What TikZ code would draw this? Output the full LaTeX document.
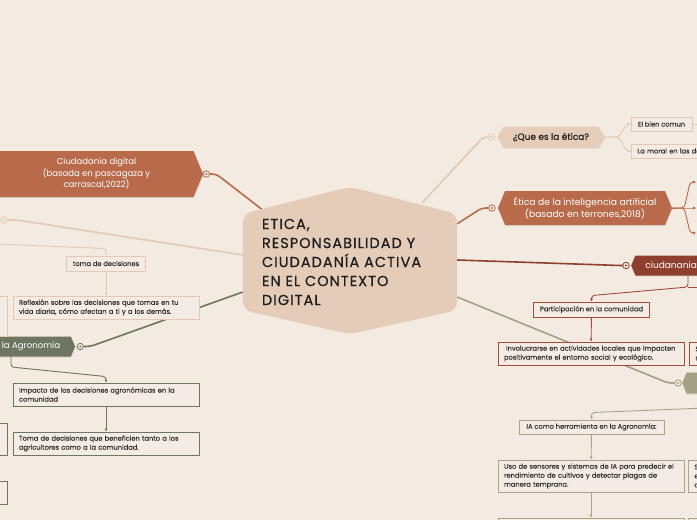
\documentclass[tikz,border=0pt]{standalone}
\usepackage{fontspec}
\setmainfont{Poppins}
\newfontfamily\heavyfont[FakeBold=0.6]{Poppins}
\newfontfamily\widefont[FakeBold=0.6,LetterSpace=7]{Poppins}
\newfontfamily\leaffont[FakeBold=0.2]{Poppins}
\usetikzlibrary{positioning,arrows.meta,shapes.symbols,shadows,calc,backgrounds}
\definecolor{paper}{HTML}{F3EBE2}
\definecolor{leaffill}{HTML}{F4ECE4}
\definecolor{ink}{HTML}{1E1E1E}
\definecolor{txt}{HTML}{34322F}
\definecolor{cfill}{HTML}{E4CCB8}
\definecolor{sand}{HTML}{E6CDB9}
\definecolor{sandline}{HTML}{E3C9B4}
\definecolor{rust}{HTML}{B86A4B}
\definecolor{drust}{HTML}{8F3F2D}
\definecolor{dline}{HTML}{A24C3B}
\definecolor{olive}{HTML}{6E7560}
\definecolor{khaki}{HTML}{A3A184}
\definecolor{khline}{HTML}{A9A688}
\pgfdeclarelayer{bglayer}
\pgfdeclarelayer{edges}
\pgfsetlayers{bglayer,edges,background,main}
\tikzset{
  title/.style={font=\widefont\fontsize{14.5}{19}\selectfont, text=ink, align=left,
                text width=176pt, inner xsep=19pt, inner ysep=0pt,
                minimum width=214pt, minimum height=96pt},
  topic/.style={signal, signal to=east and west, signal pointer angle=135, fill=#1,
                text=white, align=center, font=\fontsize{8.5}{11.5}\selectfont, inner sep=3pt,
                drop shadow={opacity=0.18, shadow xshift=0.6pt, shadow yshift=-1.2pt}},
  knob/.style={circle, draw=#1, fill=paper, line width=0.8pt, minimum size=6.5pt, inner sep=0pt,
               path picture={\fill[#1] (path picture bounding box.center) circle (1.2pt);}},
  leaf/.style={draw=#1, line width=0.9pt, fill=leaffill, text=txt,
               font=\leaffont\fontsize{6.7}{9}\selectfont, align=left, inner xsep=6pt, inner ysep=2pt},
  link/.style={line width=1.6pt, draw=#1, rounded corners=4pt},
  sublink/.style={-{Latex[length=3pt,width=3pt]}, line width=0.9pt, draw=#1, rounded corners=3pt},
}

\begin{document}
\begin{tikzpicture}[x=1pt, y=-1pt]
\useasboundingbox (0,0) rectangle (697,520);
\begin{pgfonlayer}{bglayer}
  \fill[paper] (0,0) rectangle (697,520);
\end{pgfonlayer}

% central topic
\node[title] (central) at (350,262) {ETICA,\\RESPONSABILIDAD Y\\CIUDADANÍA ACTIVA\\EN EL CONTEXTO\\DIGITAL};
\begin{scope}[on background layer]
  \fill[cfill, rounded corners=9pt] (central.west) -- (central.north west) -- ([yshift=27pt]central.north)
     -- (central.north east) -- (central.south east) -- ([yshift=-24pt]central.south)
     -- (central.south west) -- cycle;
\end{scope}

% main topics
\node[topic=rust, minimum width=213pt, minimum height=46pt] (cdig) at (96.5,174)
   {Ciudadania digital\\(basada en pascagaza y\\carrascal,2022)};
\node[topic=sand, text=ink, signal pointer angle=120, font=\heavyfont\fontsize{9}{10}\selectfont,
      minimum width=107pt, minimum height=21pt] (que) at (551,137) {¿Que es la ética?};
\node[topic=rust, minimum width=174pt, minimum height=34pt, font=\fontsize{9.2}{12}\selectfont] (eia) at (585,208)
   {Ética de la inteligencia artificial\\(basado en terrones,2018)};
\node[topic=drust, signal to=west, anchor=west, text width=90pt, align=left, inner xsep=10pt,
      minimum height=20pt, font=\fontsize{9}{11}\selectfont] (ciud) at (631,265.5) {ciudanania};
\node[topic=olive, minimum width=88pt, minimum height=20pt, font=\fontsize{8.6}{11}\selectfont] (agro) at (31,346.5) {la Agronomía};
\node[topic=khaki, signal to=west, anchor=west, minimum width=60pt, minimum height=21pt] (kh) at (682,383) {};

% knobs
\node[knob=rust] (cdigk) at ([xshift=3pt]cdig.east) {};
\node[knob=sandline] (lk) at (4,220) {};
\node[knob=olive] (agrok) at ([xshift=5pt]agro.east) {};
\node[knob=sandline] (quek) at ([xshift=-6pt]que.west) {};
\node[knob=rust] (eiak) at ([xshift=-6pt]eia.west) {};
\node[knob=drust] (ciudk) at ([xshift=-5pt]ciud.west) {};
\node[knob=khaki] (khk) at ([xshift=-4pt]kh.west) {};

% left leaves
\node[leaf=sandline, minimum width=79pt, minimum height=15pt, align=center] (toma) at (106,263.5) {toma de decisiones};
\node[leaf=sandline, text width=174pt, minimum height=23pt] (refl) at (106,307.5)
   {Reflexión sobre las decisiones que tomas en tu\\vida diaria, cómo afectan a ti y a los demás.};
\node[leaf=sandline, anchor=east, minimum width=60pt, minimum height=40pt] (lbox) at (8,316) {};
\node[leaf=olive, text width=174pt, minimum height=23pt] (impact) at (106,394.5)
   {Impacto de las decisiones agronómicas en la\\comunidad};
\node[leaf=olive, text width=174pt, minimum height=23pt] (benef) at (106,443.5)
   {Toma de decisiones que beneficien tanto a los\\agricultores como a la comunidad.};
\node[leaf=olive, anchor=east, minimum width=60pt, minimum height=32pt] (lbox2) at (8,439) {};
\node[leaf=olive, anchor=east, minimum width=60pt, minimum height=23pt] (lbox3) at (8,492.5) {};

% right leaves
\node[leaf=sandline, minimum width=61pt, minimum height=14pt, align=center] (bien) at (661.5,124) {El bien comun};
\node[leaf=sandline, anchor=west, text width=80pt, minimum height=14pt] (moral) at (631,151) {La moral en las de};
\node[leaf=dline, minimum width=115pt, minimum height=15pt, align=center] (part) at (591.5,309.5) {Participación en la comunidad};
\node[leaf=dline, text width=174pt, minimum height=23pt] (invol) at (591,353.5)
   {\hspace{2pt}Involucrarse en actividades locales que impacten\\positivamente el entorno social y ecológico.};
\node[leaf=dline, anchor=west, text width=60pt, minimum height=23pt] (involr) at (689,353.5) {S\\s};
\node[leaf=khline, minimum width=145pt, minimum height=14pt, align=center] (ia) at (591.5,427) {IA como herramienta en la Agronomía:};
\node[leaf=khline, text width=174pt, minimum height=32pt] (uso) at (591,476)
   {Uso de sensores y sistemas de IA para predecir el\\rendimiento de cultivos y detectar plagas de\\manera temprana.};
\node[leaf=khline, anchor=west, text width=60pt, minimum height=32pt] (usor) at (688,476) {S\\e\\c};
\node[leaf=khline, minimum width=186pt, minimum height=24pt] (next) at (591,530) {};
\node[leaf=khline, anchor=west, minimum width=60pt, minimum height=24pt] (nextr) at (688,530) {};

\begin{pgfonlayer}{edges}
  % main branches
  \draw[link=rust] (cdigk) -- ++(10,0) -- ([xshift=30pt,yshift=-4pt]central.north west);
  \draw[link=sandline] (lk) -- ++(13,0) -- ([yshift=7pt]central.west);
  \draw[link=olive] (agrok) -- ++(10,0) -- ([yshift=-30pt]central.west);
  \draw[link=sandline] (quek) -- ++(-8,0) -- ([xshift=-35pt,yshift=11pt]central.north east);
  \draw[link=rust] (eiak) -- ++(-10,0) -- ([yshift=-10pt]central.north east);
  \draw[link=drust] (ciudk) -- ++(-6,0) -- ([yshift=2pt]central.east);
  \draw[link=khaki] (khk) -- ++(-10,0) -- ([yshift=-35pt]central.east);
  % sub branches
  \coordinate (tomain) at (-5,244);
  \draw[sublink=sandline] (tomain) -- ([yshift=7pt]toma.north) -- (toma.north);
  \draw[sublink=sandline] (toma) -- (refl);
  \draw[sublink=olive] (11,356) -- ++(0,11) -- ([yshift=6pt]impact.north) -- (impact.north);
  \draw[sublink=olive] (impact) -- (benef);
  \draw[sublink=sandline] (que.east) -- ++(14,0) -- ++(8,-13) -- (bien.west);
  \draw[sublink=sandline] (que.east) -- ++(14,0) -- ++(8,14) -- (moral.west);
  \draw[line width=0.9pt, draw=sandline] (bien.east) -- ++(12,0);
  \foreach \dy in {-26,0,25}{ \draw[sublink=rust] (eia.east) -- ++(12,0) -- ++(6,\dy) -- ++(6,0); }
  \coordinate (cfork) at (688,287);
  \draw[sublink=dline] (cfork |- ciud.south) -- (cfork) -- ([yshift=6pt]part.north) -- (part.north);
  \draw[line width=0.9pt, draw=dline] (cfork) -- ++(14,0);
  \draw[sublink=dline] (part) -- (invol);
  \coordinate (khin) at (705,408);
  \draw[sublink=khline] (khin) -- ([yshift=7pt]ia.north) -- (ia.north);
  \draw[sublink=khline] (ia) -- (uso);
  \draw[sublink=khline] (uso) -- (next);
\end{pgfonlayer}
\end{tikzpicture}
\end{document}
